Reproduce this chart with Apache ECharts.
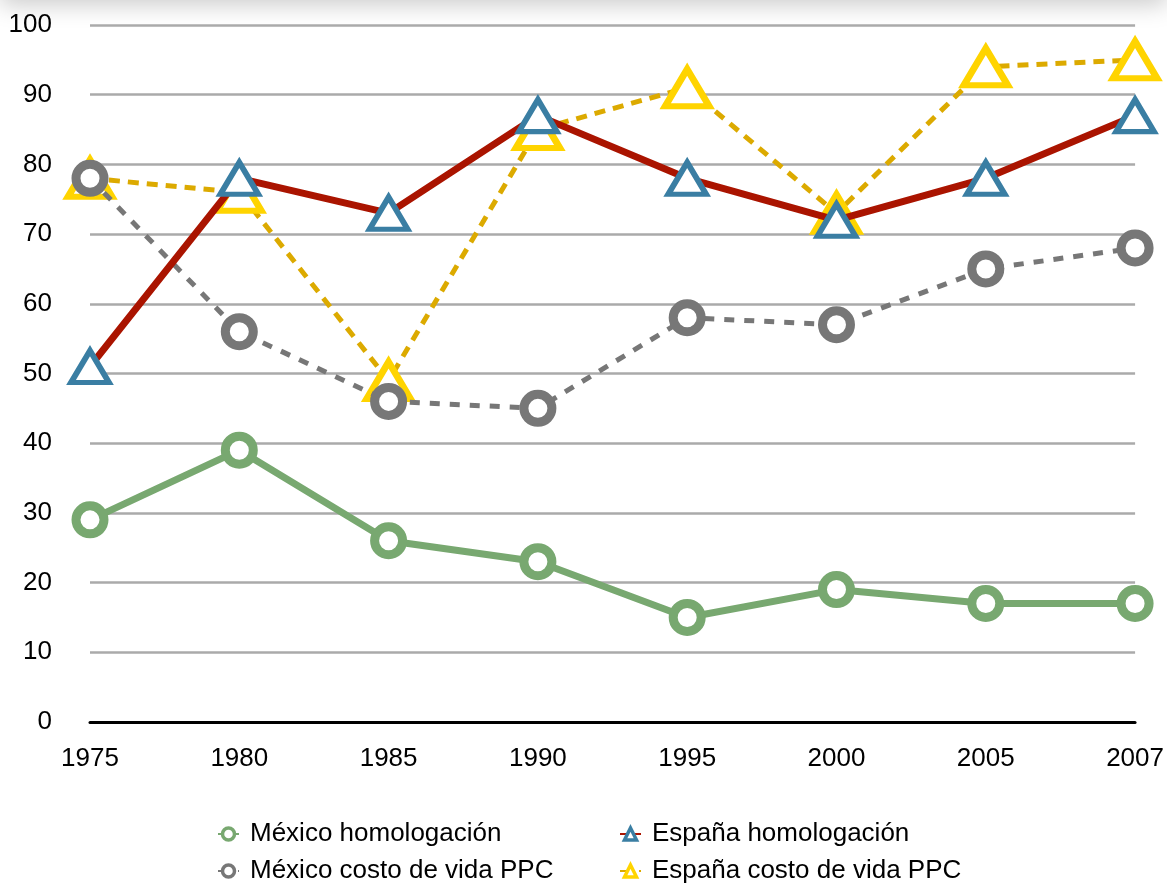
<!DOCTYPE html>
<html>
<head>
<meta charset="utf-8">
<style>
  html, body { margin: 0; padding: 0; background: #fff; overflow: hidden; }
  #shade { position: absolute; left: 0; top: -30px; width: 1167px; height: 30px; box-shadow: 0 4px 24px rgba(0,0,0,0.22); }
  #chart { width: 1167px; height: 883px; }
</style>
<script src="https://cdn.jsdelivr.net/npm/echarts@6/dist/echarts.min.js"></script>
</head>
<body>
<div id="shade"></div>
<div id="chart"></div>
<script>
const years = ["1975", "1980", "1985", "1990", "1995", "2000", "2005", "2007"];
const mexicoHomologacion = [29, 39, 26, 23, 15, 19, 17, 17];
const mexicoCostoVida = [78, 56, 46, 45, 58, 57, 65, 68];
const espanaHomologacion = [51, 78, 73, 87, 78, 72, 78, 87];
const espanaCostoVida = [78, 76, 49, 85, 91, 73, 94, 95];

const chart = echarts.init(document.getElementById("chart"));
const font = "Liberation Sans, Helvetica, Arial, sans-serif";

// one legend per entry, laid out as 2 x 2 like the original
const legendItem = (name, left, top) => ({
  data: [{ name: name, itemStyle: { borderWidth: 3.5 } }],
  left: left, top: top,
  itemWidth: 21, itemHeight: 15,
  textStyle: { fontSize: 26, color: "#000", fontFamily: font, padding: [0, 0, 0, 6] }
});

chart.setOption({
  animation: false,
  textStyle: { fontFamily: font },
  grid: { left: 90, right: 31, top: 25, bottom: 161 },
  legend: [
    legendItem("México homologación", 212, 816),
    legendItem("México costo de vida PPC", 212, 853),
    legendItem("España homologación", 614, 816),
    legendItem("España costo de vida PPC", 614, 853)
  ],
  xAxis: {
    type: "category",
    data: years,
    boundaryGap: false,
    axisLine: { lineStyle: { color: "#000", width: 3 } },
    axisTick: { show: false },
    axisLabel: { fontSize: 26, color: "#000", margin: 24, fontFamily: font },
    splitLine: { show: false }
  },
  yAxis: {
    type: "value",
    min: 0, max: 100, interval: 10,
    axisLine: { show: false },
    axisTick: { show: false },
    axisLabel: { fontSize: 26, color: "#000", margin: 38, fontFamily: font },
    splitLine: { lineStyle: { color: "#aaaaaa", width: 2.5 } }
  },
  series: [
    {
      name: "España costo de vida PPC",
      type: "line",
      data: espanaCostoVida,
      symbol: "triangle", symbolSize: [44, 37],
      lineStyle: { color: "#dcaa00", width: 5, type: [11, 8] },
      itemStyle: { color: "#fff", borderColor: "#ffd400", borderWidth: 6.5 },
      z: 2
    },
    {
      name: "México costo de vida PPC",
      type: "line",
      data: mexicoCostoVida,
      symbol: "circle", symbolSize: 28,
      lineStyle: { color: "#777777", width: 5, type: [10, 10] },
      itemStyle: { color: "#fff", borderColor: "#777777", borderWidth: 9 },
      z: 3
    },
    {
      name: "España homologación",
      type: "line",
      data: espanaHomologacion,
      symbol: "triangle", symbolSize: [38, 32],
      lineStyle: { color: "#aa1400", width: 7 },
      itemStyle: { color: "#fff", borderColor: "#3a7ea3", borderWidth: 5.5 },
      z: 4
    },
    {
      name: "México homologación",
      type: "line",
      data: mexicoHomologacion,
      symbol: "circle", symbolSize: 28,
      lineStyle: { color: "#78a870", width: 7 },
      itemStyle: { color: "#fff", borderColor: "#78a870", borderWidth: 9 },
      z: 5
    }
  ]
});
</script>
</body>
</html>
